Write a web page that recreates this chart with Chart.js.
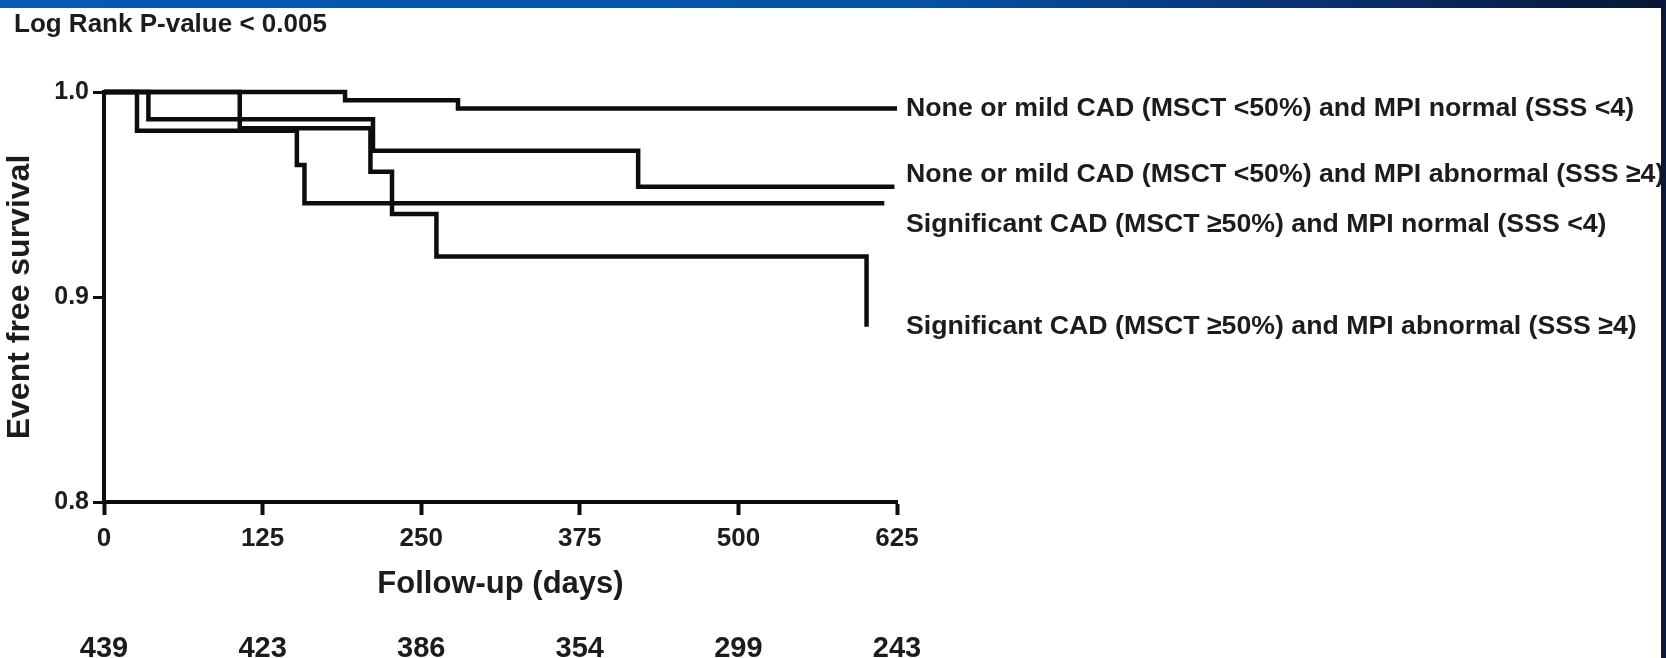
<!DOCTYPE html>
<html>
<head>
<meta charset="utf-8">
<script src="https://cdn.jsdelivr.net/npm/chart.js@4.4.1/dist/chart.umd.min.js"></script>
<style>
  html, body { margin: 0; padding: 0; background: #fff; }
  #wrap { position: relative; width: 1666px; height: 658px; }
</style>
</head>
<body>
<div id="wrap"><canvas id="km" width="1666" height="658"></canvas></div>
<script>
// Kaplan-Meier curves (days, event free survival)
const groupNames = [
    'None or mild CAD (MSCT <50%) and MPI normal (SSS <4)',
    'None or mild CAD (MSCT <50%) and MPI abnormal (SSS \u22654)',
    'Significant CAD (MSCT \u226550%) and MPI normal (SSS <4)',
    'Significant CAD (MSCT \u226550%) and MPI abnormal (SSS \u22654)'
];
const daysA = [0, 190, 279, 625];
const survA = [1.0, 0.996, 0.992, 0.992];
const daysB = [0, 35, 212, 421, 623];
const survB = [1.0, 0.9867, 0.9714, 0.9538, 0.9538];
const daysC = [0, 26, 152, 158, 615];
const survC = [1.0, 0.9811, 0.9644, 0.9457, 0.9457];
const daysD = [0, 107, 210, 227, 262, 601];
const survD = [1.0, 0.9823, 0.9611, 0.9405, 0.9197, 0.8855];

// where the group names sit on the survival axis
const labelLevels = [0.9917, 0.9595, 0.9351, 0.8854];

// x ticks and numbers at risk
const tickDays = [0, 125, 250, 375, 500, 625];
const atRisk = [439, 423, 386, 354, 299, 243];

const FONT = "'Liberation Sans', Arial, sans-serif";
const INK = '#1c1c1c';

function toPoints(days, surv) {
    return days.map((d, i) => ({ x: d, y: surv[i] }));
}

function curve(days, surv) {
    return {
        data: toPoints(days, surv),
        stepped: 'before',
        borderColor: '#0d0d0d',
        borderWidth: 4.5,
        borderCapStyle: 'butt',
        borderJoinStyle: 'miter',
        pointRadius: 0,
        fill: false,
        clip: false
    };
}

// frame, title, group labels and numbers at risk
const extras = {
    id: 'extras',
    beforeDraw(chart) {
        const ctx = chart.ctx;
        ctx.save();
        ctx.fillStyle = '#fff';
        ctx.fillRect(0, 0, chart.width, chart.height);
        ctx.restore();
    },
    afterDraw(chart) {
        const ctx = chart.ctx;
        const xs = chart.scales.x;
        const ys = chart.scales.y;
        ctx.save();
        ctx.fillStyle = INK;

        ctx.font = 'bold 26px ' + FONT;
        ctx.textAlign = 'left';
        ctx.textBaseline = 'alphabetic';
        ctx.fillText('Log Rank P-value < 0.005', 14, 32);

        ctx.font = 'bold 26.7px ' + FONT;
        ctx.textBaseline = 'middle';
        groupNames.forEach((name, i) => {
            ctx.fillText(name, chart.chartArea.right + 9, ys.getPixelForValue(labelLevels[i]));
        });

        ctx.font = 'bold 29px ' + FONT;
        ctx.textAlign = 'center';
        tickDays.forEach((d, i) => {
            ctx.fillText(String(atRisk[i]), xs.getPixelForValue(d), 649);
        });

        // slide frame
        const g = ctx.createLinearGradient(0, 0, chart.width, 0);
        g.addColorStop(0, '#0759b2');
        g.addColorStop(0.55, '#0652a4');
        g.addColorStop(0.8, '#0a2f6e');
        g.addColorStop(1, '#081632');
        ctx.fillStyle = g;
        ctx.fillRect(0, 0, chart.width, 8);
        ctx.fillStyle = '#0b1736';
        ctx.fillRect(chart.width - 5, 0, 5, chart.height);
        ctx.restore();
    }
};

new Chart(document.getElementById('km').getContext('2d'), {
    type: 'line',
    data: {
        datasets: [
            curve(daysA, survA),
            curve(daysB, survB),
            curve(daysC, survC),
            curve(daysD, survD)
        ]
    },
    options: {
        responsive: false,
        animation: false,
        devicePixelRatio: 1,
        layout: { padding: { top: 92, right: 769, bottom: 0, left: 0 } },
        plugins: {
            legend: { display: false },
            tooltip: { enabled: false }
        },
        scales: {
            x: {
                type: 'linear',
                min: 0,
                max: 625,
                afterFit(scale) { scale.height = 156; },
                afterBuildTicks(scale) { scale.ticks = tickDays.map(v => ({ value: v })); },
                border: { display: true, color: '#0d0d0d', width: 4 },
                grid: { drawOnChartArea: false, drawTicks: true, tickLength: 13, tickWidth: 4, tickColor: '#0d0d0d' },
                ticks: {
                    padding: 8,
                    color: INK,
                    font: { family: FONT, size: 26, weight: 'bold' },
                    maxRotation: 0
                },
                title: {
                    display: true,
                    text: 'Follow-up (days)',
                    color: INK,
                    font: { family: FONT, size: 31, weight: 'bold' },
                    padding: { top: 0, bottom: 55 }
                }
            },
            y: {
                type: 'linear',
                min: 0.8,
                max: 1.0,
                afterFit(scale) { scale.width = 104; },
                border: { display: true, color: '#0d0d0d', width: 4 },
                grid: { drawOnChartArea: false, drawTicks: true, tickLength: 11, tickWidth: 3, tickColor: '#0d0d0d' },
                ticks: {
                    stepSize: 0.1,
                    padding: 4,
                    color: INK,
                    font: { family: FONT, size: 25, weight: 'bold' },
                    callback: v => v.toFixed(1)
                },
                title: {
                    display: true,
                    text: 'Event free survival',
                    color: INK,
                    font: { family: FONT, size: 32, weight: 'bold' },
                    padding: { top: 1, bottom: 0 }
                }
            }
        }
    },
    plugins: [extras]
});
</script>
</body>
</html>
